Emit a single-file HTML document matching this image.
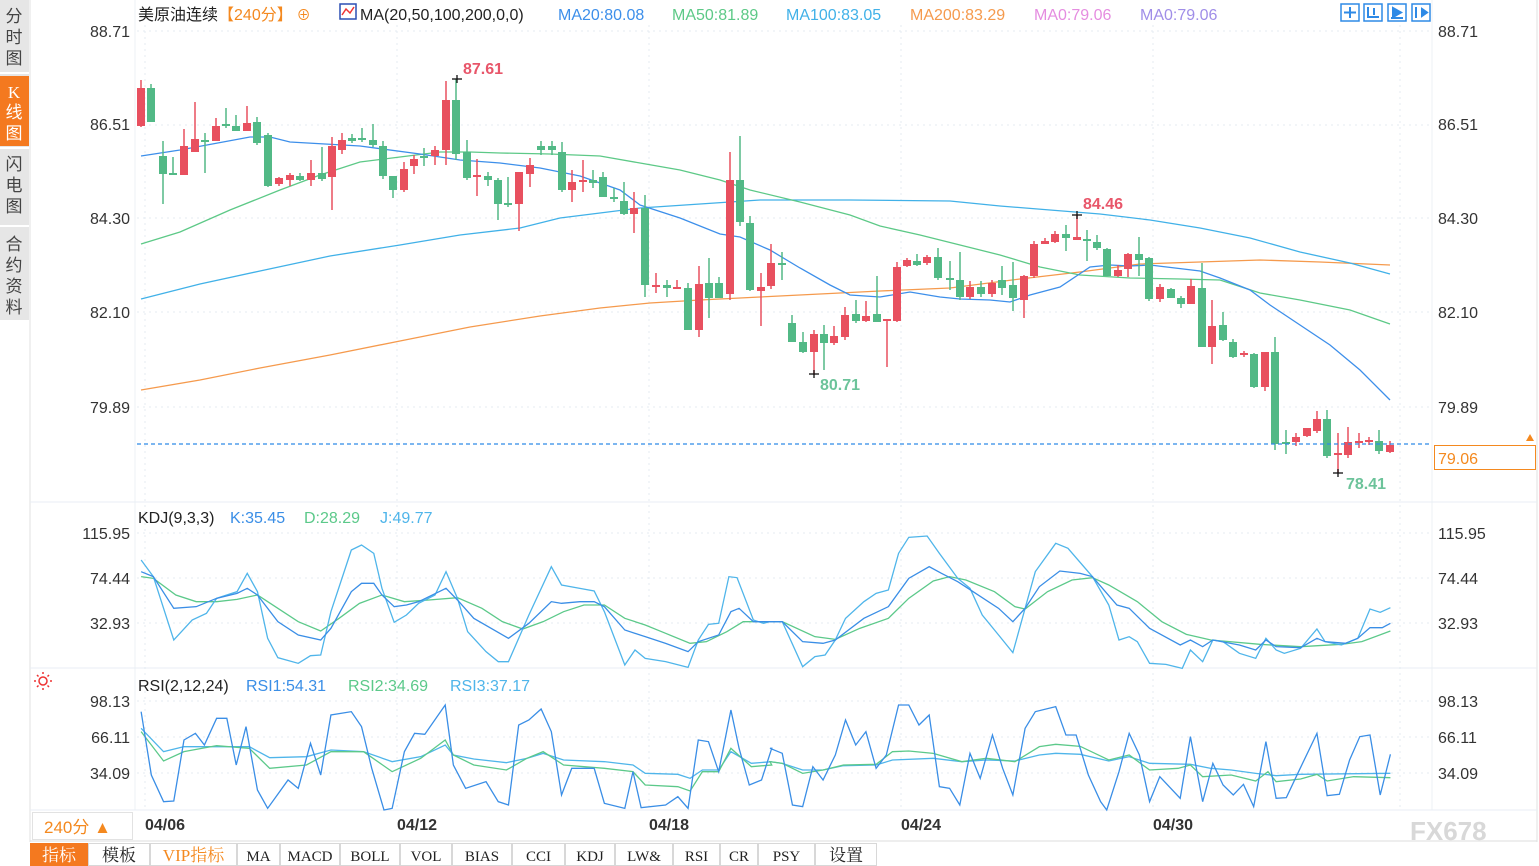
<!DOCTYPE html>
<html><head><meta charset="utf-8"><style>
html,body{margin:0;padding:0;background:#fff;width:1539px;height:866px;overflow:hidden;font-family:"Liberation Sans","Noto Sans CJK SC",sans-serif}
svg{position:absolute;left:0;top:0}
</style></head><body>
<svg id="s" width="1539" height="866" xmlns="http://www.w3.org/2000/svg" font-family="Liberation Sans, Noto Sans CJK SC, sans-serif">
<rect x="0" y="0" width="1539" height="866" fill="#fff"/>
<!-- sidebar -->
<rect x="0" y="0" width="29" height="320" fill="#e6e6e6"/>
<rect x="0" y="76" width="29" height="70" fill="#f4791f"/>
<line x1="0" y1="73" x2="29" y2="73" stroke="#fff" stroke-width="2"/>
<line x1="0" y1="148" x2="29" y2="148" stroke="#fff" stroke-width="2"/>
<line x1="0" y1="226" x2="29" y2="226" stroke="#fff" stroke-width="2"/>
<g font-size="17" fill="#444" text-anchor="middle">
<text x="14" y="22">分</text><text x="14" y="43">时</text><text x="14" y="64">图</text>
<text x="14" y="98" fill="#fff" font-family="Liberation Serif, serif">K</text><text x="14" y="118" fill="#fff">线</text><text x="14" y="139" fill="#fff">图</text>
<text x="14" y="170">闪</text><text x="14" y="191">电</text><text x="14" y="212">图</text>
<text x="14" y="250">合</text><text x="14" y="271">约</text><text x="14" y="292">资</text><text x="14" y="313">料</text>
</g>
<line x1="30" y1="0" x2="30" y2="842" stroke="#e2e2e2"/>
<line x1="135" y1="0" x2="135" y2="810" stroke="#eef2f6"/>
<line x1="1432" y1="0" x2="1432" y2="810" stroke="#eef2f6"/>
<line x1="1537" y1="0" x2="1537" y2="842" stroke="#e2e2e2"/>
<line x1="30" y1="502" x2="1537" y2="502" stroke="#e8eef4"/>
<line x1="30" y1="668" x2="1537" y2="668" stroke="#e8eef4"/>
<line x1="30" y1="810" x2="1537" y2="810" stroke="#e8eef4"/>
<line x1="30" y1="841" x2="1537" y2="841" stroke="#ddd"/>
<g id="grid" stroke="#e4ebf2" stroke-dasharray="2,4"></g>
<!-- header -->
<text x="138" y="20" font-size="16"><tspan fill="#222">美原油连续</tspan><tspan fill="#f4891f">【240分】</tspan><tspan fill="#f4891f" font-size="14"> ⊕ </tspan></text>
<rect x="340" y="4" width="16" height="15" fill="#fff" stroke="#2b4fb3" stroke-width="1.5"/>
<polyline points="342,15 346,9 350,13 354,7" fill="none" stroke="#e33" stroke-width="1.5"/>
<text y="20" font-size="16"><tspan x="360" fill="#222">MA(20,50,100,200,0,0)</tspan><tspan x="558" fill="#3d8fea">MA20:80.08</tspan><tspan x="672" fill="#5dc987">MA50:81.89</tspan><tspan x="786" fill="#41b1e8">MA100:83.05</tspan><tspan x="910" fill="#f59a4d">MA200:83.29</tspan><tspan x="1034" fill="#e58de0">MA0:79.06</tspan><tspan x="1140" fill="#a08ee8">MA0:79.06</tspan></text>
<g fill="#fff" stroke="#2e8ae6" stroke-width="1.5">
<rect x="1341" y="4" width="18" height="17"/><rect x="1364" y="4" width="18" height="17"/><rect x="1388" y="4" width="18" height="17"/><rect x="1412" y="4" width="18" height="17"/>
</g>
<g stroke="#2e8ae6" stroke-width="2" fill="#2e8ae6">
<line x1="1350" y1="7" x2="1350" y2="18"/><line x1="1344" y1="12.5" x2="1356" y2="12.5"/>
<line x1="1368" y1="7" x2="1368" y2="18"/><line x1="1368" y1="17" x2="1379" y2="17"/><line x1="1374" y1="8" x2="1374" y2="15"/>
<polygon points="1393,8 1401,12.5 1393,17"/><line x1="1391" y1="18" x2="1403" y2="18"/>
<line x1="1416" y1="7" x2="1416" y2="18"/><polygon points="1422,9 1427,12.5 1422,16"/>
</g>
<!-- axis labels -->
<g font-size="16" fill="#333">
<g text-anchor="end">
<text x="130" y="37">88.71</text><text x="130" y="130">86.51</text><text x="130" y="224">84.30</text><text x="130" y="318">82.10</text><text x="130" y="413">79.89</text>
<text x="130" y="539">115.95</text><text x="130" y="584">74.44</text><text x="130" y="629">32.93</text>
<text x="130" y="707">98.13</text><text x="130" y="743">66.11</text><text x="130" y="779">34.09</text>
</g>
<text x="1438" y="37">88.71</text><text x="1438" y="130">86.51</text><text x="1438" y="224">84.30</text><text x="1438" y="318">82.10</text><text x="1438" y="413">79.89</text>
<text x="1438" y="539">115.95</text><text x="1438" y="584">74.44</text><text x="1438" y="629">32.93</text>
<text x="1438" y="707">98.13</text><text x="1438" y="743">66.11</text><text x="1438" y="779">34.09</text>
</g>
<g id="main"></g>
<!-- current price -->
<line x1="137" y1="444" x2="1432" y2="444" stroke="#2e8ae6" stroke-dasharray="4,3" stroke-width="1.3"/>
<rect x="1434.5" y="445.5" width="101" height="24" fill="#fff" stroke="#f4891f"/>
<text x="1438" y="464" font-size="16" fill="#f4891f">79.06</text>
<polygon points="1526,441 1530,434 1534,441" fill="#f4891f"/>
<!-- annotations -->
<g font-size="16" font-weight="bold">
<text x="463" y="74" fill="#e8566a">87.61</text>
<text x="1083" y="209" fill="#e8566a">84.46</text>
<text x="820" y="390" fill="#6cc39a">80.71</text>
<text x="1346" y="489" fill="#6cc39a">78.41</text>
</g>
<g stroke="#111" stroke-width="1.3">
<line x1="452" y1="79" x2="462" y2="79"/><line x1="457" y1="75" x2="457" y2="83"/>
<line x1="1072" y1="215" x2="1082" y2="215"/><line x1="1077" y1="211" x2="1077" y2="219"/>
<line x1="809" y1="374" x2="819" y2="374"/><line x1="814" y1="370" x2="814" y2="378"/>
<line x1="1333" y1="473" x2="1343" y2="473"/><line x1="1338" y1="469" x2="1338" y2="477"/>
</g>
<!-- sub panel labels -->
<text x="138" y="523" font-size="16"><tspan fill="#222">KDJ(9,3,3)</tspan><tspan x="230" fill="#3a8ee6">K:35.45</tspan><tspan x="304" fill="#5cc98a">D:28.29</tspan><tspan x="380" fill="#4fb5ea">J:49.77</tspan></text>
<text x="138" y="691" font-size="16"><tspan fill="#222">RSI(2,12,24)</tspan><tspan x="246" fill="#3a8ee6">RSI1:54.31</tspan><tspan x="348" fill="#5cc98a">RSI2:34.69</tspan><tspan x="450" fill="#4fb5ea">RSI3:37.17</tspan></text>
<g stroke="#e33" stroke-width="1.5" fill="none"><circle cx="43" cy="681" r="4"/><line x1="43" y1="672" x2="43" y2="674"/><line x1="43" y1="688" x2="43" y2="690"/><line x1="34" y1="681" x2="36" y2="681"/><line x1="50" y1="681" x2="52" y2="681"/><line x1="37" y1="675" x2="38.5" y2="676.5"/><line x1="49" y1="675" x2="47.5" y2="676.5"/><line x1="37" y1="687" x2="38.5" y2="685.5"/><line x1="49" y1="687" x2="47.5" y2="685.5"/></g>
<!-- date axis -->
<rect x="32.5" y="812.5" width="100" height="27" fill="#fff" stroke="#e2e2e2"/>
<text x="44" y="833" font-size="17" fill="#f4891f">240分 ▲</text>
<g font-size="16" font-weight="bold" fill="#333">
<text x="145" y="830">04/06</text><text x="397" y="830">04/12</text><text x="649" y="830">04/18</text><text x="901" y="830">04/24</text><text x="1153" y="830">04/30</text>
</g>
<text x="1410" y="840" font-size="26" fill="#d8d8d8" font-weight="bold">FX678</text>
<!-- toolbar -->
<g id="tb" font-family="Liberation Serif, Noto Serif CJK SC, serif" font-size="16" text-anchor="middle"></g>
</svg>
<script>
var NS="http://www.w3.org/2000/svg";
function el(p,t,a){var e=document.createElementNS(NS,t);for(var k in a)e.setAttribute(k,a[k]);p.appendChild(e);return e;}
var g=document.getElementById('grid');
[31,125,218,312,407].forEach(function(y){el(g,'line',{x1:137,y1:y,x2:1430,y2:y});});
[533,578,623,701,737,773].forEach(function(y){el(g,'line',{x1:137,y1:y,x2:1430,y2:y});});
[145,397,649,901,1153,1400].forEach(function(x){el(g,'line',{x1:x,y1:25,x2:x,y2:810});});
var m=document.getElementById('main');
function pl(pts,c,w){el(m,'polyline',{points:pts.map(function(p){return p[0]+','+p[1]}).join(' '),fill:'none',stroke:c,'stroke-width':w||1.3});}
pl([[141,390],[200,380],[260,368],[330,355],[400,341],[470,327],[540,316],[600,308],[650,303],[700,300],[760,297],[820,294],[880,291],[950,288],[1020,279],[1080,272],[1140,264],[1200,262],[1260,260],[1320,262],[1390,265]],'#f59a4d');
pl([[141,299],[200,284],[260,271],[330,256],[400,245],[460,235],[520,228],[560,218],[600,213],[640,208],[700,204],[760,200],[850,200],[950,201],[1000,206],[1050,210],[1100,214],[1150,220],[1200,228],[1250,238],[1300,252],[1350,263],[1390,274]],'#41b1e8');
pl([[141,244],[180,232],[230,210],[280,190],[320,175],[360,162],[400,157],[440,152],[470,152],[500,153],[550,154],[600,156],[640,163],[680,170],[720,180],[750,190],[800,202],[850,215],[880,226],[920,235],[960,245],[1000,255],[1040,267],[1080,275],[1130,278],[1180,279],[1220,280],[1260,293],[1300,300],[1350,310],[1390,324]],'#5dc987');
pl([[141,156],[180,150],[250,137],[270,137],[290,142],[360,146],[420,154],[460,160],[500,163],[540,168],[580,176],[620,190],[640,205],[680,218],[720,234],[740,237],[770,250],[800,268],[830,285],[850,295],[880,297],[910,292],[940,297],[960,299],[990,300],[1010,302],[1030,295],[1060,287],[1090,267],[1110,265],[1130,266],[1150,265],[1175,268],[1200,271],[1220,278],[1250,290],[1270,305],[1300,325],[1330,345],[1360,370],[1390,400]],'#3d8fea');
// candles: x, bodyTop, bodyBot, wickTop, wickBot, up(1=red)
var C=[[141,88,126,80,127,1],[151,88,122,84,122,0],[163,156,174,141,204,0],[173,173,175,157,175,0],[184,146,175,129,175,1],[195,139,152,102,152,1],[205,140,142,133,173,0],[216,126,141,118,141,1],[226,124,126,108,128,0],[236,126,131,115,131,0],[247,123,131,106,131,1],[257,122,143,117,145,0],[268,135,186,133,187,0],[279,178,184,177,186,1],[290,175,180,173,186,1],[300,176,180,173,181,0],[311,173,180,160,186,1],[322,173,179,147,181,0],[332,146,177,137,210,1],[342,140,150,133,154,1],[352,138,141,134,143,0],[362,138,140,128,142,0],[373,140,145,124,147,0],[383,146,176,141,179,0],[393,176,190,176,198,0],[404,169,190,162,192,1],[414,159,166,155,174,1],[424,156,158,148,166,0],[435,150,156,146,165,1],[446,100,150,81,165,1],[456,100,154,79,160,0],[467,152,178,140,180,0],[477,175,177,159,196,1],[488,176,180,172,186,0],[498,180,204,178,220,0],[508,203,205,177,207,0],[519,172,204,172,231,1],[530,165,174,158,187,1],[541,146,150,141,155,0],[552,146,150,141,155,0],[562,152,190,142,192,0],[572,182,190,170,202,1],[583,180,182,160,192,1],[593,180,183,170,188,0],[603,177,197,172,197,0],[614,197,199,188,202,0],[624,201,214,182,215,0],[634,208,214,192,233,1],[645,208,285,195,297,0],[656,285,287,273,293,1],[667,285,288,280,297,0],[677,287,289,280,289,1],[688,288,330,283,330,0],[699,284,330,266,337,1],[709,283,298,258,318,0],[719,283,298,277,298,0],[730,180,294,152,300,1],[740,180,222,136,226,0],[750,223,290,216,291,0],[761,287,291,273,326,1],[771,263,286,244,289,1],[782,263,265,252,280,0],[792,323,342,315,342,0],[803,342,352,332,353,0],[814,334,352,330,375,1],[824,334,343,325,370,0],[834,336,343,326,345,1],[845,315,337,307,340,1],[856,314,321,300,323,0],[866,316,321,301,322,1],[877,314,322,276,322,0],[887,319,321,319,367,1],[897,267,321,262,322,1],[907,260,266,258,267,1],[917,261,265,254,266,0],[927,257,263,255,265,1],[938,257,278,248,280,0],[950,278,280,261,290,0],[960,280,297,252,300,0],[970,287,297,281,299,1],[981,287,294,281,297,0],[992,283,294,280,297,1],[1002,280,288,266,295,0],[1013,285,298,262,311,0],[1024,276,300,275,318,1],[1034,244,276,241,278,1],[1045,241,244,238,244,1],[1055,234,242,231,243,1],[1066,234,238,225,251,0],[1077,237,240,215,240,1],[1087,239,241,230,261,0],[1097,242,248,235,250,0],[1107,249,276,248,276,0],[1118,270,276,265,277,1],[1128,254,269,253,277,1],[1139,254,260,237,276,0],[1149,258,299,257,301,0],[1160,287,299,284,302,1],[1171,289,298,288,298,0],[1181,298,304,296,308,0],[1191,286,304,279,304,1],[1202,288,347,263,347,0],[1212,326,347,300,364,1],[1223,325,340,312,341,0],[1233,342,357,339,358,0],[1244,353,355,351,357,1],[1254,354,387,353,388,0],[1265,352,387,352,391,1],[1275,352,444,337,450,0],[1286,442,444,430,454,0],[1296,437,442,433,446,1],[1307,428,436,428,437,1],[1317,419,431,411,433,1],[1327,419,456,410,458,0],[1338,453,455,433,473,1],[1348,442,455,427,458,1],[1359,441,443,433,448,1],[1369,440,442,437,445,1],[1379,441,451,430,454,0],[1390,445,452,441,453,1]];
C.forEach(function(c){var col=c[5]?'#e8505f':'#52b986';
el(m,'line',{x1:c[0],y1:c[3],x2:c[0],y2:c[4],stroke:col,'stroke-width':1.5});
var h=Math.max(c[2]-c[1],2);el(m,'rect',{x:c[0]-4,y:c[1],width:8,height:h,fill:col});});
// sub panels from zoom coords
function z1(a){return a.map(function(p){return [135+p[0]/2.45,505+p[1]/3]});}
function z2(a){return a.map(function(p){return [770+p[0]/2.45,505+p[1]/3]});}
function ser(a,b,c){pl(z1(a).concat(z2(b)),c,1.3);}
ser([[15,215],[45,220],[100,270],[150,290],[200,290],[250,283],[300,270],[350,310],[400,350],[455,378],[500,340],[550,295],[605,270],[660,290],[720,285],[790,278],[850,310],[900,350],[950,372],[1000,350],[1050,320],[1100,300],[1150,300],[1200,340],[1250,360],[1300,385],[1360,415],[1400,410],[1450,380],[1490,350],[1555,350]],
[[0,350],[30,350],[110,395],[160,403],[220,370],[290,340],[340,280],[400,228],[440,215],[480,225],[550,260],[600,305],[625,312],[680,260],[740,225],[790,218],[830,240],[900,290],[960,350],[1020,388],[1080,405],[1200,418],[1300,425],[1400,418],[1450,410],[1520,378]],'#5cc98a');
ser([[15,165],[45,215],[95,405],[140,345],[175,325],[200,280],[250,260],[275,205],[300,260],[325,400],[350,458],[400,475],[430,452],[455,450],[480,320],[530,135],[555,120],[585,145],[605,250],[635,352],[665,330],[695,295],[735,270],[762,200],[790,280],[815,380],[860,440],[890,470],[915,470],[965,330],[1020,185],[1045,240],[1090,250],[1125,258],[1150,320],[1200,480],[1225,435],[1250,460],[1300,470],[1355,487],[1380,405],[1405,358],[1430,355],[1455,215],[1475,218],[1515,345],[1540,355],[1555,350]],
[[0,350],[30,350],[80,485],[110,455],[135,450],[160,405],[185,340],[230,290],[260,265],[290,255],[315,145],[340,97],[385,93],[415,145],[445,195],[460,220],[490,250],[520,330],[560,390],[595,443],[625,310],[650,200],[700,115],[730,130],[790,215],[830,300],[855,405],[880,395],[900,410],[930,475],[970,478],[1010,490],[1030,435],[1060,470],[1085,405],[1110,410],[1150,445],[1190,460],[1215,400],[1240,435],[1260,445],[1300,430],[1340,372],[1360,410],[1400,420],[1440,400],[1470,312],[1495,322],[1520,308]],'#4fb5ea');
ser([[15,200],[45,215],[95,310],[150,305],[200,280],[250,265],[275,250],[300,270],[350,350],[400,390],[455,405],[480,370],[530,260],[555,235],[585,235],[605,270],[635,305],[665,300],[695,290],[762,250],[790,285],[830,340],[915,400],[965,355],[1020,290],[1045,295],[1090,290],[1125,290],[1150,305],[1200,375],[1250,395],[1300,415],[1355,440],[1380,410],[1430,390],[1460,320],[1480,310],[1515,350],[1555,350]],
[[0,350],[30,350],[80,410],[130,415],[160,405],[230,340],[290,305],[340,220],[390,185],[420,205],[460,230],[500,262],[560,310],[595,350],[625,310],[660,245],[710,198],[760,205],[790,215],[850,300],[880,310],[930,370],[1005,420],[1030,405],[1060,425],[1085,405],[1150,420],[1190,435],[1215,405],[1240,425],[1300,428],[1340,400],[1360,410],[1410,415],[1440,400],[1470,368],[1500,368],[1520,355]],'#3a8ee6');
ser([[15,670],[70,740],[120,725],[200,725],[280,725],[330,758],[420,755],[480,735],[560,740],[630,770],[700,755],[760,720],[780,750],[830,762],[910,773],[960,760],[1000,745],[1050,765],[1150,770],[1220,780],[1250,805],[1330,808],[1360,820],[1390,795],[1430,795],[1460,740],[1510,775],[1560,770]],
[[0,770],[30,775],[80,795],[130,795],[180,782],[260,780],[300,765],[400,760],[470,770],[530,765],[600,768],[660,750],[700,745],[760,748],[830,768],[880,755],[930,775],[1030,778],[1080,790],[1130,795],[1190,805],[1240,812],[1300,808],[1520,805]],'#4fb5ea');
ser([[15,680],[70,768],[120,740],[200,722],[280,730],[330,790],[420,780],[480,740],[560,740],[630,800],[700,760],[760,705],[780,750],[830,780],[910,795],[960,760],[1000,740],[1050,780],[1150,790],[1220,800],[1250,840],[1330,845],[1360,858],[1390,800],[1430,800],[1460,730],[1510,785],[1560,780]],
[[0,770],[30,775],[80,805],[130,795],[180,780],[260,778],[300,740],[340,738],[400,745],[470,770],[530,760],[600,770],[660,725],[700,718],[760,724],[830,765],[880,750],[930,795],[1000,790],[1030,780],[1060,815],[1130,810],[1190,828],[1220,800],[1240,830],[1300,822],[1340,808],[1365,828],[1430,815],[1520,818]],'#5cc98a');
ser([[15,620],[40,810],[70,890],[95,888],[120,705],[148,685],[170,720],[200,640],[225,640],[248,780],[272,665],[300,855],[325,910],[375,825],[400,850],[430,715],[455,810],[480,630],[530,620],[555,665],[580,790],[610,915],[630,910],[660,740],[685,685],[710,688],[760,600],[780,780],[810,850],[860,830],[890,890],[915,900],[940,660],[965,645],[995,612],[1020,680],[1045,870],[1070,790],[1125,790],[1150,895],[1200,910],[1220,800],[1240,908],[1300,900],[1330,875],[1355,910],[1380,705],[1405,710],[1430,800],[1460,615],[1480,730],[1505,840],[1535,825],[1560,730]],
[[0,730],[30,745],[55,900],[80,905],[105,785],[130,825],[160,750],[185,645],[210,720],[235,680],[260,790],[285,750],[315,600],[340,600],[365,660],[390,630],[415,845],[440,850],[465,900],[490,745],[515,820],[545,690],[570,790],[595,870],[625,670],[650,620],[700,605],[725,690],[750,690],[780,810],[810,890],[825,915],[855,800],[880,685],[905,750],[930,890],[955,815],[1005,880],[1030,695],[1060,890],[1085,775],[1110,840],[1135,870],[1160,838],[1185,905],[1215,710],[1240,880],[1265,878],[1295,800],[1340,685],[1365,872],[1395,868],[1420,765],[1445,695],[1470,690],[1495,870],[1520,748]],'#3a8ee6');
// toolbar
var tb=document.getElementById('tb');
var B=[['指标',30,88],['模板',88,150],['VIP指标',150,237],['MA',237,280],['MACD',280,340],['BOLL',340,400],['VOL',400,452],['BIAS',452,512],['CCI',512,565],['KDJ',565,615],['LW&',615,673],['RSI',673,720],['CR',720,758],['PSY',758,815],['设置',815,877]];
B.forEach(function(b,i){
el(tb,'rect',{x:b[1]+0.5,y:843.5,width:b[2]-b[1]-1,height:22,fill:i==0?'#f4791f':'#fff',stroke:i==0?'#f4791f':'#d8d8d8'});
var t=el(tb,'text',{x:(b[1]+b[2])/2,y:861,fill:i==0?'#fff':(i==2?'#f4891f':'#222'),'font-size':(i<3||i==14)?17:15});t.textContent=b[0];});
</script>
</body></html>
